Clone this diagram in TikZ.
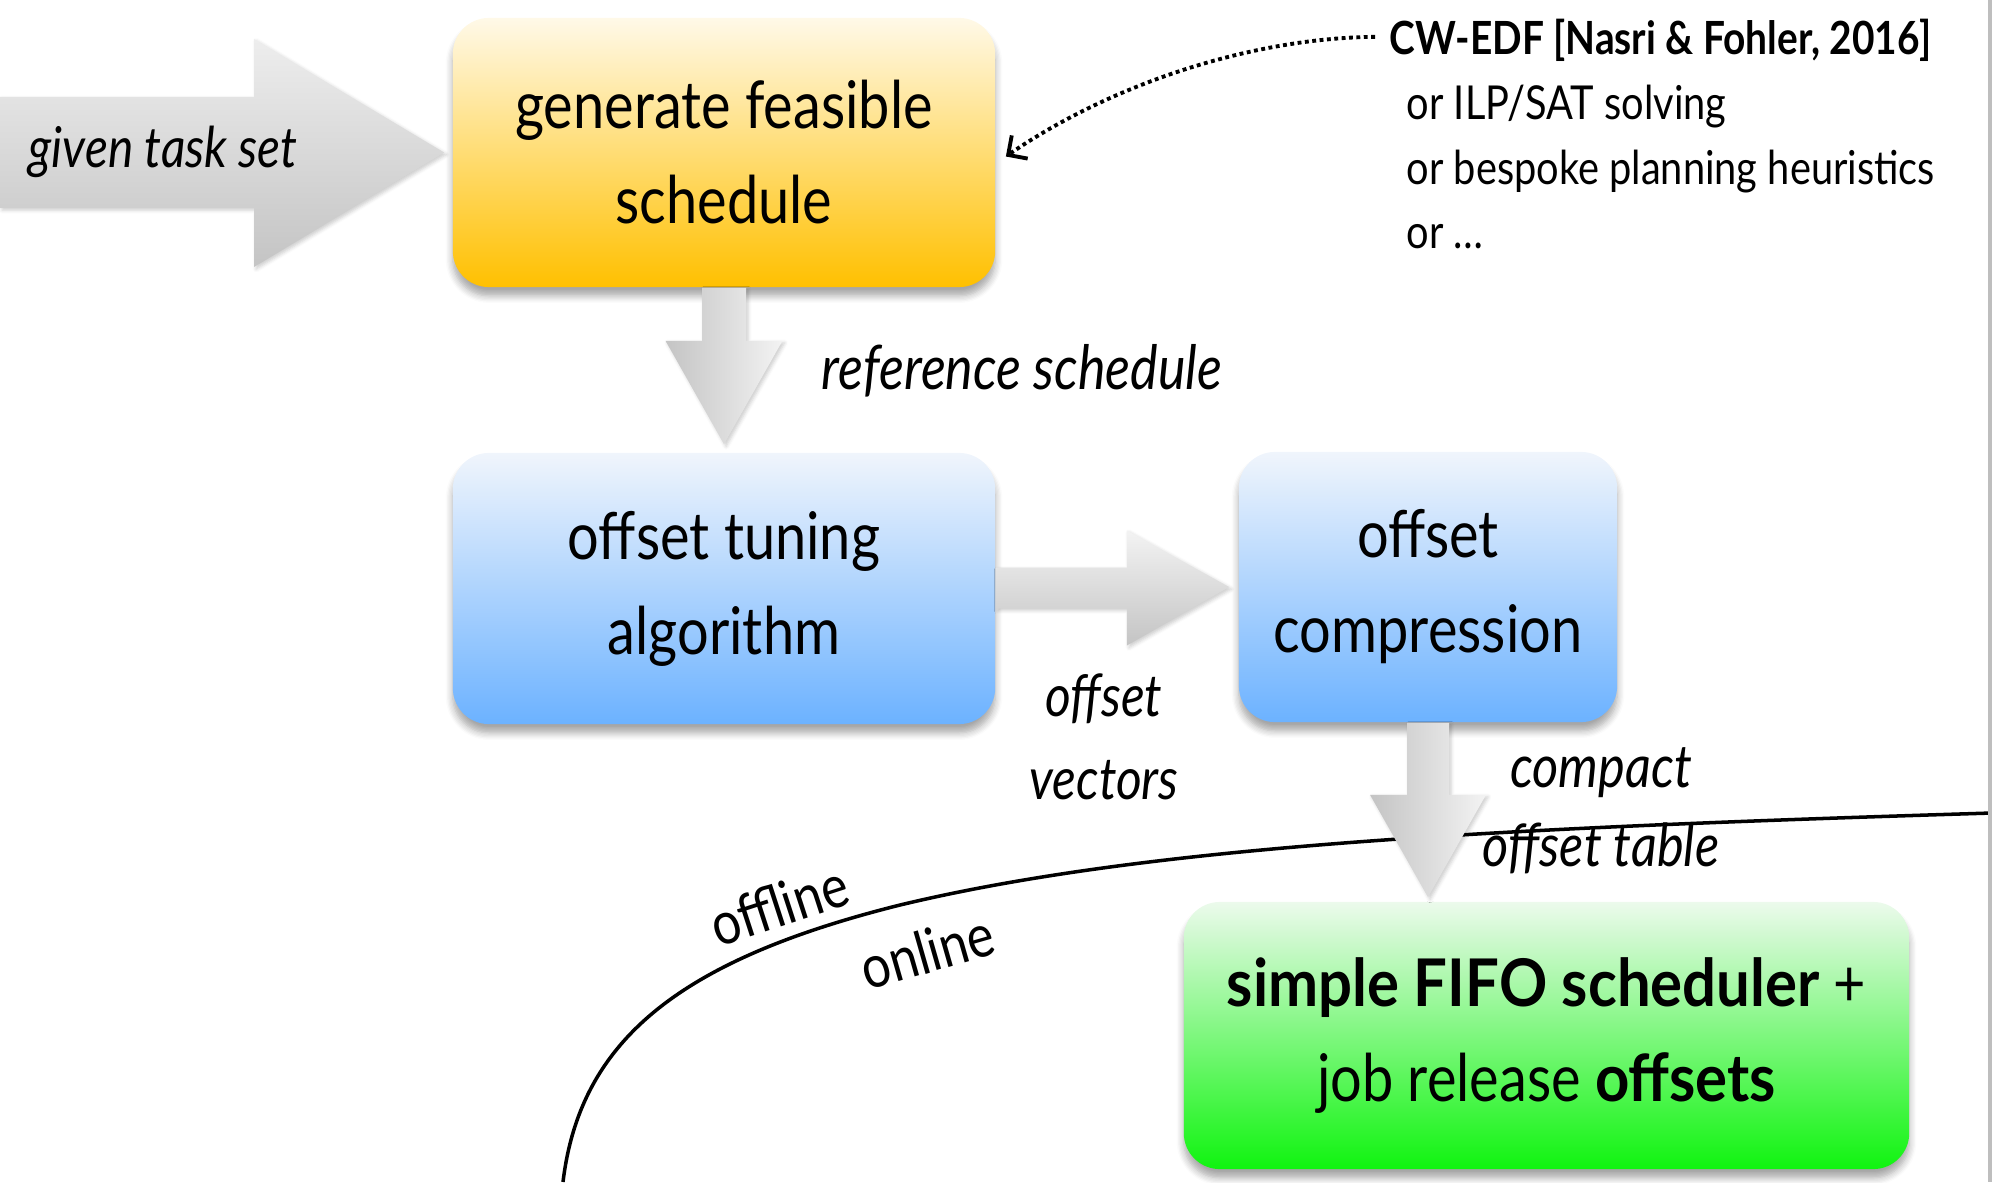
\documentclass[tikz,border=0pt]{standalone}
\usepackage{fontspec}
\setmainfont{Lato}[FakeStretch=0.85]
\newfontfamily\wideb{Lato}[FakeStretch=0.91]
\usetikzlibrary{arrows.meta,calc,shadows.blur}
\definecolor{yTop}{RGB}{255,249,232}
\definecolor{yBot}{RGB}{255,192,0}
\definecolor{bTop}{RGB}{240,245,252}
\definecolor{bBot}{RGB}{108,178,255}
\definecolor{gTop}{RGB}{236,250,236}
\definecolor{gBot}{RGB}{16,244,16}
\definecolor{arrLight}{RGB}{243,243,243}
\definecolor{arrDark}{RGB}{196,196,196}
\definecolor{edgegray}{RGB}{190,190,190}
\begin{document}
\begin{tikzpicture}[x=0.01cm,y=-0.01cm,
  box/.style={rounded corners=0.36cm, inner sep=0pt, align=center,
    font=\fontsize{18.7}{27}\selectfont,
    blur shadow={shadow xshift=0pt, shadow yshift=-2.5pt, shadow opacity=35, shadow blur steps=6, shadow blur radius=2pt}},
  blockarrow/.style={draw=none,
    blur shadow={shadow xshift=0.6pt, shadow yshift=-0.6pt, shadow opacity=20, shadow blur steps=4, shadow blur radius=1pt}},
  lbl/.style={font=\fontsize{16.8}{23.5}\selectfont\itshape, align=center, inner sep=0pt},
  note/.style={font=\fontsize{13.3}{14}\selectfont, anchor=base west, inner sep=0pt},
  sidelbl/.style={font=\fontsize{17}{17}\selectfont, inner sep=0pt},
]
\useasboundingbox (0,0) rectangle (1992,1182);

% separation curve
\coordinate (cstart) at (563,1182);
\coordinate (cmid) at (900,905);
\coordinate (cend) at (1992,813);
\draw[line width=1pt] (cstart) .. controls (580,1040) and (680,960) .. (cmid)
  .. controls (1150,845) and (1500,828) .. (cend);
\node[sidelbl, rotate=18] (offl) at (779,905) {offline};
\node[sidelbl, rotate=16] (onl) at (927,951) {online};

% boxes
\node[box, minimum width=5.42cm, minimum height=2.69cm, top color=yTop, bottom color=yBot] (gen) at (724,152.5) {generate feasible\\schedule};
\node[box, minimum width=5.42cm, minimum height=2.71cm, top color=bTop, bottom color=bBot] (tune) at (724,588.5) {offset tuning\\algorithm};
\node[box, minimum width=3.78cm, minimum height=2.70cm, top color=bTop, bottom color=bBot] (comp) at (1428,587) {offset\\compression};
\node[box, minimum width=7.25cm, minimum height=2.67cm, top color=gTop, bottom color=gBot] (fifo) at (1546.5,1035.5) {{\wideb\bfseries simple FIFO scheduler} +\\job release {\wideb\bfseries offsets}};

% big input arrow
\coordinate (intip) at ($(gen.west)+(-8,0)$);
\path[blockarrow, top color=arrLight!95!gray, bottom color=arrDark] (0,97) -- (254,97) -- (254,39) -- (intip) -- (254,267) -- (254,208) -- (0,208) -- cycle;
\node[lbl, font=\fontsize{16}{23.5}\selectfont\itshape] (given) at (163,152) {given task set};

% gen -> tune
\path[blockarrow, left color=arrDark, right color=arrLight]
  ($(gen.south)+(-22,0)$) -- ($(gen.south)+(22,0)$) -- ($(gen.south)+(22,53)$) -- ($(gen.south)+(58.5,53)$)
  -- ($(tune.north)+(0,-8)$) -- ($(gen.south)+(-58.5,53)$) -- ($(gen.south)+(-22,53)$) -- cycle;
\node[lbl, font=\fontsize{17.4}{23.5}\selectfont\itshape] (refs) at (1022,371) {reference schedule};

% tune -> comp
\path[blockarrow, top color=arrLight, bottom color=arrDark]
  ($(tune.east)+(0,-21)$) -- ($(tune.east)+(131,-21)$) -- ($(tune.east)+(131,-58)$)
  -- ($(comp.west)+(-9,0)$) -- ($(tune.east)+(131,57)$) -- ($(tune.east)+(131,20)$) -- ($(tune.east)+(0,20)$) -- cycle;
\node[lbl, font=\fontsize{16.6}{23.5}\selectfont\itshape] (offv) at (1104,737) {offset\\vectors};

% comp -> fifo
\coordinate (ctip) at ($(comp.south |- fifo.north)+(0,-4)$);
\path[blockarrow, left color=arrDark, right color=arrLight]
  ($(comp.south)+(-21,0)$) -- ($(comp.south)+(21,0)$) -- ($(comp.south)+(21,72)$) -- ($(comp.south)+(58,72)$)
  -- (ctip) -- ($(comp.south)+(-58,72)$) -- ($(comp.south)+(-21,72)$) -- cycle;
\node[lbl, font=\fontsize{16.9}{22.5}\selectfont\itshape] (cot) at (1601,811) {compact\\offset table};

% notes top right
\node[note, font=\fontsize{13}{14}\selectfont\bfseries] (cw) at (1389,55) {CW-EDF [Nasri \& Fohler, 2016]};
\node[note] (ilp) at (1406,120) {or ILP/SAT solving};
\node[note] (besp) at (1406,185) {or bespoke planning heuristics};
\node[note] (etc) at (1406,248) {or …};
\draw[densely dotted, line width=1.1pt, -{Straight Barb[length=4pt,width=8pt,line width=1.1pt]}]
  ($(cw.west)+(-14,-4)$) .. controls (1250,38) and (1110,85) .. ($(gen.east)+(10,4)$);

% right edge strip
\fill[edgegray] (1988,0) rectangle (1992,1182);
\end{tikzpicture}
\end{document}
